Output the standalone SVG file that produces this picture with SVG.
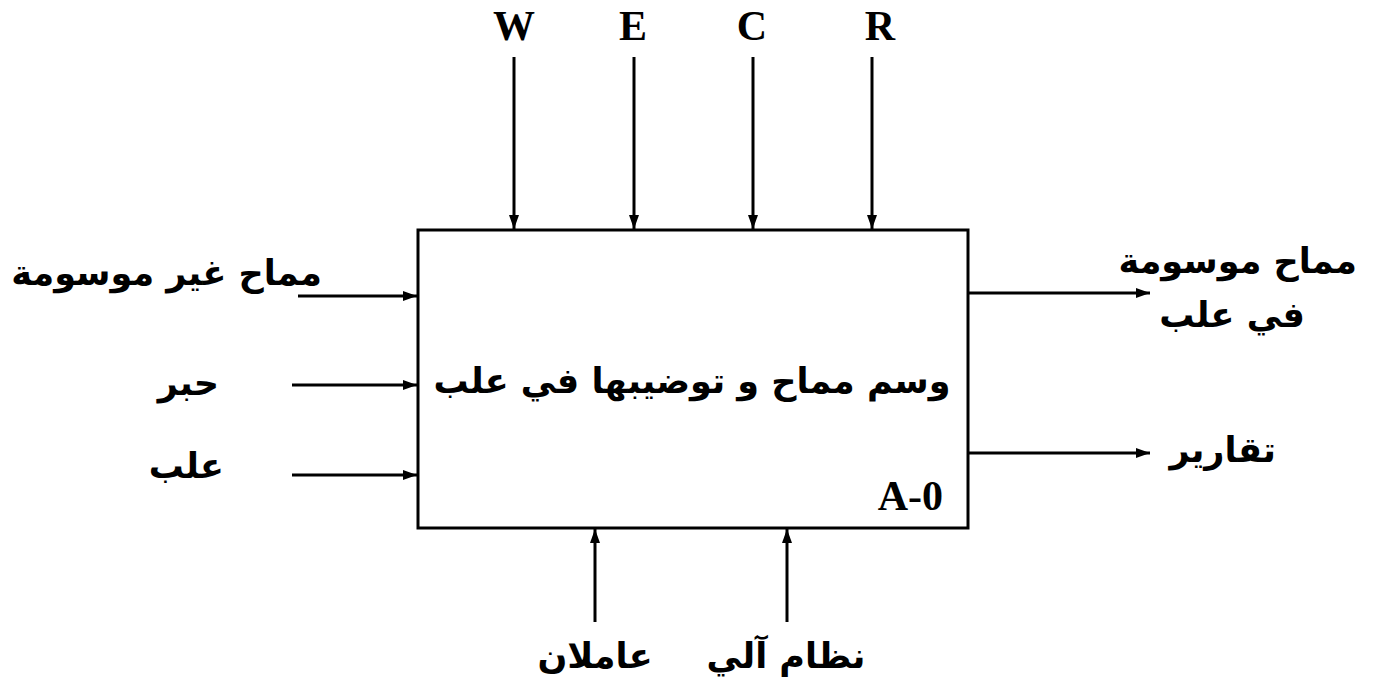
<svg xmlns="http://www.w3.org/2000/svg" width="1373" height="687" viewBox="0 0 1373 687">
<style>
.ln{stroke:#000;stroke-width:3;fill:none}
.lat{font-family:"Liberation Serif","Times New Roman",serif;font-weight:bold;font-size:42px;fill:#000}
.ar{font-family:"DejaVu Sans","Liberation Sans",sans-serif;font-weight:bold;font-size:35px;fill:#000}
</style>
<defs>
<marker id="ah" viewBox="0 0 14 10" refX="14" refY="5" markerWidth="14" markerHeight="10" markerUnits="userSpaceOnUse" orient="auto">
<path d="M0,0 L14,5 L0,10 Z" fill="#000"/>
</marker>
</defs>
<rect width="1373" height="687" fill="#fff"/>
<g id="box">
<rect x="418" y="230" width="550" height="298" class="ln"/>
<text class="ar" x="692" y="393" text-anchor="middle" direction="rtl">وسم مماح و توضيبها في علب</text>
<text class="lat" x="943" y="510" text-anchor="end" font-size="40">A-0</text>
</g>
<g id="connectors">
<line x1="514" y1="57" x2="514" y2="229" class="ln" marker-end="url(#ah)"/>
<line x1="634" y1="57" x2="634" y2="229" class="ln" marker-end="url(#ah)"/>
<line x1="753" y1="57" x2="753" y2="229" class="ln" marker-end="url(#ah)"/>
<line x1="872" y1="57" x2="872" y2="229" class="ln" marker-end="url(#ah)"/>
<line x1="298" y1="296" x2="417" y2="296" class="ln" marker-end="url(#ah)"/>
<line x1="292" y1="385" x2="417" y2="385" class="ln" marker-end="url(#ah)"/>
<line x1="292" y1="475" x2="417" y2="475" class="ln" marker-end="url(#ah)"/>
<line x1="969" y1="293" x2="1150" y2="293" class="ln" marker-end="url(#ah)"/>
<line x1="969" y1="453" x2="1150" y2="453" class="ln" marker-end="url(#ah)"/>
<line x1="595" y1="622" x2="595" y2="529" class="ln" marker-end="url(#ah)"/>
<line x1="787" y1="622" x2="787" y2="529" class="ln" marker-end="url(#ah)"/>
</g>
<g id="in-W"><text class="lat" x="514" y="40" text-anchor="middle">W</text></g>
<g id="in-E"><text class="lat" x="633" y="40" text-anchor="middle">E</text></g>
<g id="in-C"><text class="lat" x="752" y="40" text-anchor="middle">C</text></g>
<g id="in-R"><text class="lat" x="880" y="40" text-anchor="middle">R</text></g>
<g id="in1"><text class="ar" x="322" y="285" text-anchor="end">مماح غير موسومة</text></g>
<g id="in2"><text class="ar" x="219" y="395" text-anchor="end">حبر</text></g>
<g id="in3"><text class="ar" x="224" y="478" text-anchor="end">علب</text></g>
<g id="out1">
<text class="ar" x="1357" y="273" text-anchor="end">مماح موسومة</text>
<text class="ar" x="1305" y="327" text-anchor="end">في علب</text>
</g>
<g id="out2"><text class="ar" x="1276" y="462" text-anchor="end">تقارير</text></g>
<g id="mech1"><text class="ar" x="595" y="668" text-anchor="middle">عاملان</text></g>
<g id="mech2"><text class="ar" x="786" y="668" text-anchor="middle">نظام آلي</text></g>
</svg>
